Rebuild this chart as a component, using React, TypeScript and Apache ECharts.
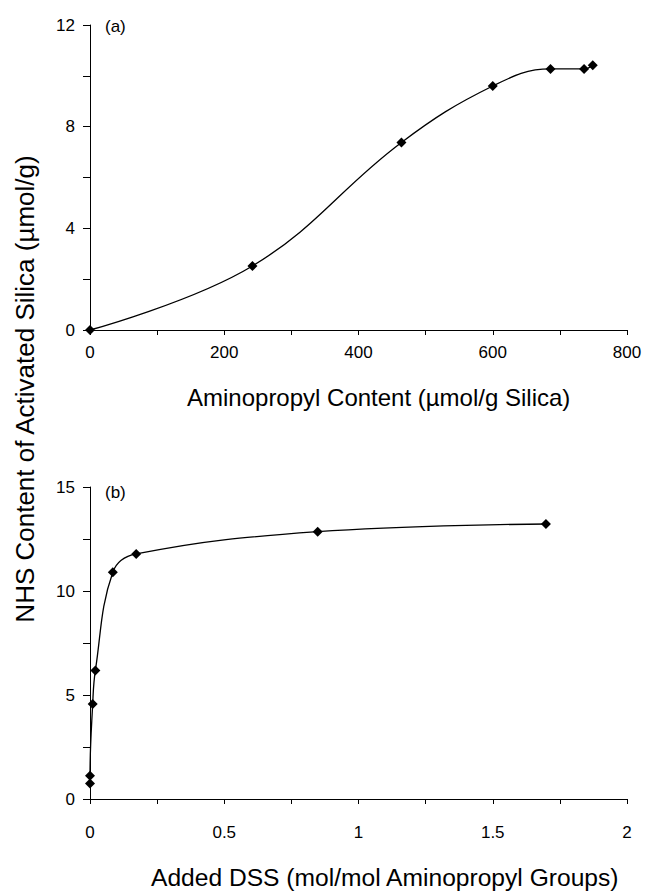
import React, { useEffect, useRef } from "react";
import * as echarts from "echarts";

const aminoX = [0, 242, 464, 600, 686, 736, 749];
const nhsA = [0, 2.52, 7.38, 9.6, 10.27, 10.27, 10.42];

const dssX = [0, 0, 0.01, 0.02, 0.085, 0.172, 0.848, 1.698];
const nhsB = [0.74, 1.12, 4.57, 6.18, 10.9, 11.78, 12.85, 13.22];

const panelLabels = ["(a)", "(b)"];
const yTitle = "NHS Content of Activated Silica (µmol/g)";
const xTitleA = "Aminopropyl Content (µmol/g Silica)";
const xTitleB = "Added DSS (mol/mol Aminopropyl Groups)";

const FONT = "Liberation Sans, Arial, sans-serif";

export default function App() {
  const ref = useRef<HTMLDivElement>(null);
  useEffect(() => {
    if (!ref.current) return;
    const chart = echarts.init(ref.current, null, { renderer: "svg" });
    const axisLine = { show: true, onZero: false, lineStyle: { color: "#000", width: 1 } };
    const labelStyle = { color: "#000", fontSize: 17, fontFamily: FONT };
    const near = (v: number, step: number) => Math.abs(v / step - Math.round(v / step)) < 1e-9;
    chart.setOption({
      animation: false,
      backgroundColor: "#fff",
      grid: [
        { left: 90, right: 18, top: 25, height: 305 },
        { left: 90, right: 18, top: 487, height: 312 },
      ],
      xAxis: [
        {
          type: "value", gridIndex: 0, min: 0, max: 800, interval: 100,
          axisLine, axisTick: { show: true, length: 5, lineStyle: { color: "#000" } },
          splitLine: { show: false },
          axisLabel: { ...labelStyle, margin: 14, formatter: (v: number) => (near(v, 200) ? String(v) : "") },
        },
        {
          type: "value", gridIndex: 1, min: 0, max: 2, interval: 0.25,
          axisLine, axisTick: { show: true, length: 5, lineStyle: { color: "#000" } },
          splitLine: { show: false },
          axisLabel: { ...labelStyle, margin: 25, formatter: (v: number) => (near(v, 0.5) ? String(v) : "") },
        },
      ],
      yAxis: [
        {
          type: "value", gridIndex: 0, min: 0, max: 12, interval: 2,
          axisLine, axisTick: { show: true, length: 7, lineStyle: { color: "#000" } },
          splitLine: { show: false },
          axisLabel: { ...labelStyle, margin: 15, formatter: (v: number) => (near(v, 4) ? String(v) : "") },
        },
        {
          type: "value", gridIndex: 1, min: 0, max: 15, interval: 2.5,
          axisLine, axisTick: { show: true, length: 7, lineStyle: { color: "#000" } },
          splitLine: { show: false },
          axisLabel: { ...labelStyle, margin: 15, formatter: (v: number) => (near(v, 5) ? String(v) : "") },
        },
      ],
      series: [
        {
          type: "line", xAxisIndex: 0, yAxisIndex: 0,
          data: aminoX.map((x, i) => [x, nhsA[i]]),
          smooth: 0.4, symbol: "diamond", symbolSize: 10,
          itemStyle: { color: "#000" }, lineStyle: { color: "#000", width: 1.3 },
        },
        {
          type: "line", xAxisIndex: 1, yAxisIndex: 1,
          data: dssX.map((x, i) => [x, nhsB[i]]),
          smooth: 0.4, symbol: "diamond", symbolSize: 10,
          itemStyle: { color: "#000" }, lineStyle: { color: "#000", width: 1.3 },
        },
      ],
      graphic: [
        { type: "text", x: 105, y: 26, style: { text: panelLabels[0], fill: "#000", font: `17px ${FONT}`, textAlign: "left", textVerticalAlign: "middle" } },
        { type: "text", x: 105, y: 492, style: { text: panelLabels[1], fill: "#000", font: `17px ${FONT}`, textAlign: "left", textVerticalAlign: "middle" } },
        { type: "text", x: 187, y: 397, style: { text: xTitleA, fill: "#000", font: `24px ${FONT}`, textAlign: "left", textVerticalAlign: "middle" } },
        { type: "text", x: 151, y: 877, style: { text: xTitleB, fill: "#000", font: `24.6px ${FONT}`, textAlign: "left", textVerticalAlign: "middle" } },
        { type: "text", x: 25, y: 389, rotation: Math.PI / 2, style: { text: yTitle, fill: "#000", font: `26px ${FONT}`, textAlign: "center", textVerticalAlign: "middle" } },
      ],
    });
    return () => chart.dispose();
  }, []);
  return <div ref={ref} style={{ position: "fixed", left: 0, top: 0, width: 645, height: 892 }} />;
}
